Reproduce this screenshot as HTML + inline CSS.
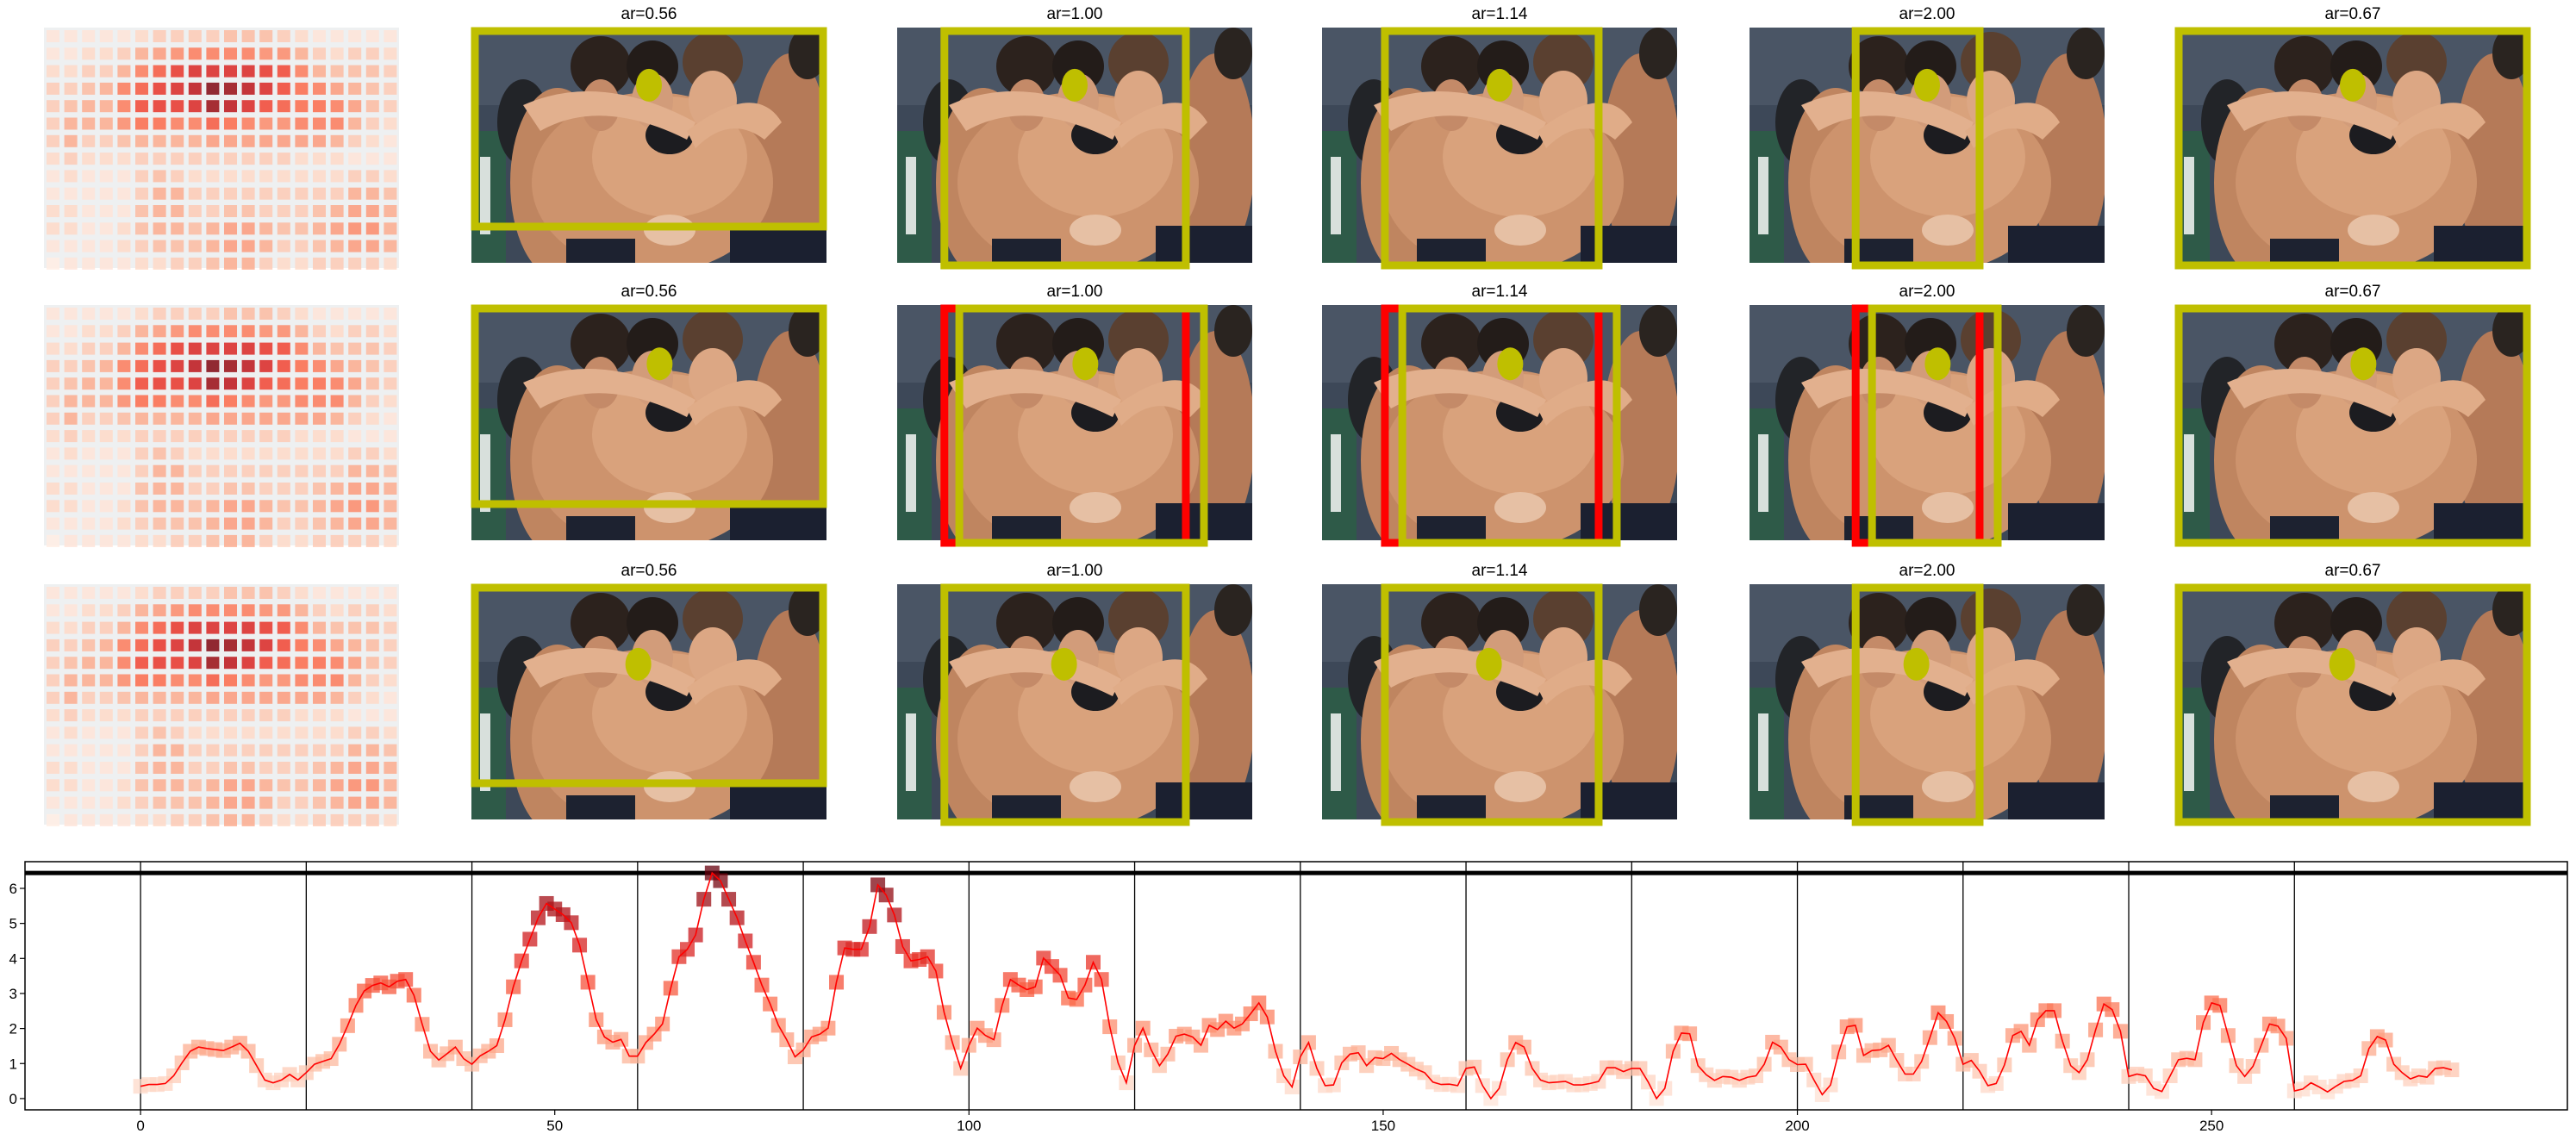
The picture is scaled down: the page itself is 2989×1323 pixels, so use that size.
<!DOCTYPE html>
<html><head><meta charset="utf-8">
<style>
html,body{margin:0;padding:0;background:#fff;}
svg{display:block;font-family:"Liberation Sans","DejaVu Sans",sans-serif;}
</style></head>
<body>
<svg id="fig" width="2989" height="1323" viewBox="0 0 2989 1323" xmlns="http://www.w3.org/2000/svg">
<defs>
<symbol id="photo" viewBox="0 0 412 273" preserveAspectRatio="none">
  <rect x="0" y="0" width="412" height="273" fill="#3d4858"/>
  <rect x="0" y="0" width="412" height="90" fill="#4a5565"/>
  <rect x="0" y="120" width="40" height="153" fill="#2e5a48"/>
  <rect x="10" y="150" width="12" height="90" fill="#d8e0dc"/>
  <ellipse cx="60" cy="110" rx="30" ry="50" fill="#222428"/>
  <ellipse cx="100" cy="180" rx="55" ry="110" fill="#bf8560"/>
  <ellipse cx="370" cy="150" rx="45" ry="120" fill="#b57a58"/>
  <ellipse cx="210" cy="180" rx="140" ry="105" fill="#cd936d"/>
  <ellipse cx="230" cy="150" rx="90" ry="70" fill="#d9a27c"/>
  <ellipse cx="150" cy="45" rx="35" ry="35" fill="#2c221d"/>
  <ellipse cx="210" cy="45" rx="30" ry="30" fill="#231c19"/>
  <ellipse cx="280" cy="40" rx="35" ry="35" fill="#5a4030"/>
  <ellipse cx="390" cy="30" rx="22" ry="30" fill="#2a2420"/>
  <ellipse cx="210" cy="85" rx="24" ry="32" fill="#d29c7a"/>
  <ellipse cx="280" cy="85" rx="28" ry="35" fill="#dca784"/>
  <ellipse cx="150" cy="90" rx="22" ry="30" fill="#c48a68"/>
  <ellipse cx="230" cy="125" rx="28" ry="22" fill="#1c1c20"/>
  <path d="M60 90 Q150 50 260 110 L250 130 Q150 80 80 120Z" fill="#e2b08e"/>
  <path d="M250 120 Q330 60 360 110 L340 130 Q300 100 260 140Z" fill="#e0ac88"/>
  <rect x="110" y="245" width="80" height="28" fill="#1d2230"/>
  <rect x="300" y="230" width="112" height="43" fill="#1b2030"/>
  <ellipse cx="230" cy="235" rx="30" ry="18" fill="#e6c0a4"/>
</symbol>
</defs>
<g id="tiles"></g>
<g id="chart"></g>
</svg>
<script>
// ---- chart data ----
const scoreValues = [
0.35,0.40,0.40,0.43,0.65,1.02,1.35,1.47,1.43,1.40,1.37,1.47,1.58,1.35,0.94,0.53,0.45,0.53,0.69,0.53,
0.74,0.98,1.06,1.14,1.55,2.08,2.66,3.07,3.23,3.30,3.19,3.35,3.40,2.95,2.12,1.35,1.10,1.28,1.47,1.14,
0.98,1.22,1.35,1.51,2.25,3.19,3.93,4.55,5.16,5.57,5.41,5.25,5.02,4.38,3.32,2.25,1.76,1.61,1.69,1.21,
1.21,1.60,1.84,2.13,3.15,4.05,4.26,4.67,5.69,6.44,6.22,5.69,5.16,4.50,3.89,3.24,2.70,2.09,1.68,1.19,
1.39,1.76,1.84,2.01,3.32,4.30,4.26,4.26,4.91,6.10,5.81,5.24,4.34,3.93,3.97,4.05,3.64,2.46,1.60,0.86,
1.52,2.01,1.80,1.68,2.66,3.40,3.24,3.11,3.19,4.01,3.77,3.52,2.87,2.83,3.24,3.89,3.40,2.05,1.02,0.45,
1.52,2.01,1.39,0.94,1.27,1.78,1.84,1.76,1.52,2.09,1.97,2.21,2.01,2.13,2.42,2.73,2.33,1.35,0.65,0.33,
1.19,1.60,0.86,0.37,0.39,1.02,1.27,1.31,0.94,1.17,1.14,1.29,1.11,0.98,0.84,0.74,0.47,0.40,0.41,0.37,
0.86,0.90,0.37,0.00,0.29,1.11,1.60,1.47,0.86,0.53,0.45,0.47,0.49,0.39,0.39,0.43,0.49,0.88,0.88,0.77,
0.86,0.86,0.47,0.00,0.29,1.35,1.87,1.85,0.94,0.68,0.52,0.63,0.61,0.52,0.61,0.65,0.98,1.61,1.47,1.11,
0.97,0.98,0.53,0.11,0.39,1.33,2.05,2.09,1.23,1.37,1.39,1.52,1.09,0.70,0.70,1.06,1.74,2.45,2.20,1.72,
0.98,1.09,0.78,0.37,0.43,0.96,1.80,1.92,1.52,2.25,2.51,2.51,1.64,0.94,0.74,1.11,1.96,2.70,2.54,1.92,
0.63,0.70,0.65,0.29,0.20,0.65,1.11,1.15,1.11,2.17,2.73,2.66,1.80,0.94,0.63,0.92,1.52,2.13,2.07,1.72,
0.22,0.27,0.45,0.33,0.19,0.35,0.49,0.52,0.65,1.43,1.77,1.67,0.98,0.74,0.56,0.65,0.61,0.86,0.88,0.82];
const segmentBounds = [0,20,40,60,80,100,120,140,160,180,200,220,240,260];
const xTicks = [0,50,100,150,200,250];
const yTicks = [0,1,2,3,4,5,6];
// ---- tile data ----
const arLabels = ["ar=0.56","ar=1.00","ar=1.14","ar=2.00","ar=0.67"];
const heatVals = [
[.1,.1,.1,.1,.1,.15,.2,.2,.2,.2,.25,.25,.25,.2,.15,.1,.1,.1,.1,.1],
[.1,.1,.15,.15,.2,.3,.35,.4,.45,.45,.45,.45,.4,.4,.3,.2,.15,.2,.2,.15],
[.15,.15,.2,.2,.3,.45,.55,.65,.7,.7,.7,.7,.65,.6,.45,.3,.25,.25,.25,.2],
[.2,.2,.25,.3,.45,.55,.65,.7,.8,.95,.9,.8,.7,.6,.5,.45,.35,.3,.25,.2],
[.2,.25,.3,.3,.45,.6,.65,.65,.7,.9,.8,.7,.6,.55,.5,.5,.45,.35,.25,.2],
[.2,.3,.3,.3,.4,.5,.5,.45,.45,.55,.5,.45,.4,.4,.45,.45,.45,.3,.2,.15],
[.2,.3,.2,.2,.25,.3,.3,.3,.3,.35,.35,.35,.35,.35,.35,.35,.3,.2,.15,.1],
[.15,.2,.15,.15,.15,.2,.2,.2,.2,.2,.2,.2,.2,.2,.15,.15,.15,.1,.1,.1],
[.1,.15,.1,.1,.1,.2,.25,.2,.15,.15,.15,.15,.15,.15,.15,.15,.15,.2,.2,.15],
[.1,.1,.1,.1,.1,.2,.3,.3,.2,.2,.2,.2,.2,.2,.2,.2,.2,.3,.3,.25],
[.15,.15,.1,.1,.1,.25,.3,.3,.2,.2,.25,.25,.2,.2,.2,.25,.3,.35,.35,.3],
[.15,.15,.1,.1,.15,.25,.3,.3,.25,.3,.35,.35,.3,.25,.25,.3,.35,.4,.4,.3],
[.1,.1,.1,.1,.15,.2,.25,.25,.25,.3,.35,.35,.3,.2,.2,.25,.3,.35,.35,.3],
[.05,.1,.1,.1,.1,.15,.15,.2,.2,.25,.3,.3,.2,.15,.15,.2,.2,.2,.2,.15]];

const NS="http://www.w3.org/2000/svg";
function mk(tag,attrs,parent){const e=document.createElementNS(NS,tag);for(const k in attrs)e.setAttribute(k,attrs[k]);parent.appendChild(e);return e;}
const REDS=[[255,245,240],[254,224,210],[252,187,161],[252,146,114],[251,106,74],[239,59,44],[203,24,29],[165,15,21],[103,0,13]];
function reds(t){t=Math.max(0,Math.min(1,t));const p=t*8,i=Math.min(7,Math.floor(p)),f=p-i;const a=REDS[i],b=REDS[i+1];
return `rgb(${Math.round(a[0]+(b[0]-a[0])*f)},${Math.round(a[1]+(b[1]-a[1])*f)},${Math.round(a[2]+(b[2]-a[2])*f)})`;}

// ---- tiles ----
const tiles=document.getElementById('tiles');
const rowsY=[32,354,678], PH=273, PW=412;
const colX=[547,1041,1534,2030,2524];
const boxFr=[[0,1],[0.133,0.813],[0.177,0.779],[0.299,0.648],[0,1]];
const shiftFr=[[0,1],[0.175,0.864],[0.226,0.830],[0.345,0.699],[0,1]];
const dotFr=[[0.50,0.245],[0.53,0.25],[0.47,0.34]];
rowsY.forEach((y0,r)=>{
  const hg=mk('g',{},tiles);
  
  
  mk('rect',{x:51,y:y0,width:412,height:279,fill:'#eef0f1'},hg);
  heatVals.forEach((row,ri)=>row.forEach((v,ci)=>{
    const c=mk('rect',{x:51+3+ci*20.6,y:y0+3+ri*20.3,width:15,height:14,fill:reds(v),opacity:0.85},hg);
    
    
  }));
  colX.forEach((x0,c)=>{
    const g=mk('g',{},tiles);
    
    
    const t=mk('text',{x:x0+PW/2,y:y0-10,'font-size':19,'text-anchor':'middle',fill:'#000'},g);
    t.textContent=arLabels[c];
    
    
    const u=mk('use',{href:'#photo',x:x0,y:y0,width:PW,height:PH},g);
    
    
    const bh = c===0 ? PH*0.846 : PH+3;
    if(r===1 && c>=1 && c<=3){
      const rb=mk('rect',{x:x0+boxFr[c][0]*PW,y:y0+4,width:(boxFr[c][1]-boxFr[c][0])*PW,height:bh-4,fill:'none',stroke:'#ff0000','stroke-width':9},g);
      
      
    }
    const fr = (r===1)?shiftFr[c]:boxFr[c];
    const inset = (c===0||c===4)?4:0;
    const yb=mk('rect',{x:x0+fr[0]*PW+inset,y:y0+4,width:(fr[1]-fr[0])*PW-2*inset,height:bh-4,fill:'none',stroke:'#bfbf00','stroke-width':9},g);
    
    
    const d=mk('ellipse',{cx:x0+dotFr[r][0]*PW,cy:y0+dotFr[r][1]*PH,rx:15,ry:19,fill:'#bfbf00'},g);
    
    
  });
});

// ---- chart ----
const ch=document.getElementById('chart');
const AX={l:29,r:2979,t:1000,b:1288}, XMIN=-13.95, XMAX=292.95, YMIN=-0.322, YMAX=6.762;
const X=v=>AX.l+(v-XMIN)/(XMAX-XMIN)*(AX.r-AX.l);
const Y=v=>AX.b-(v-YMIN)/(YMAX-YMIN)*(AX.b-AX.t);
const vmax=Math.max(...scoreValues), vmin=Math.min(...scoreValues);
segmentBounds.forEach(s=>{
  const l=mk('line',{x1:X(s),x2:X(s),y1:AX.t,y2:AX.b,stroke:'#000','stroke-width':1.3},ch);
  
  
});
const mx=mk('line',{x1:AX.l,x2:AX.r,y1:Y(vmax),y2:Y(vmax),stroke:'#000','stroke-width':5},ch);


scoreValues.forEach((v,i)=>{
  const m=mk('rect',{x:X(i)-8.5,y:Y(v)-8.5,width:17,height:17,fill:reds(0.1+0.9*(v-vmin)/(vmax-vmin)),opacity:0.75},ch);
  
  
});
const pl=mk('polyline',{points:scoreValues.map((v,i)=>X(i).toFixed(1)+','+Y(v).toFixed(1)).join(' '),fill:'none',stroke:'#ff0000','stroke-width':1.6},ch);


const fr=mk('rect',{x:AX.l,y:AX.t,width:AX.r-AX.l,height:AX.b-AX.t,fill:'none',stroke:'#000','stroke-width':1.5},ch);


xTicks.forEach(t=>{
  mk('line',{x1:X(t),x2:X(t),y1:AX.b,y2:AX.b+6,stroke:'#000','stroke-width':1.2},ch);
  const tx=mk('text',{x:X(t),y:AX.b+24,'font-size':17,'text-anchor':'middle'},ch);
  tx.textContent=t;
  
  
});
yTicks.forEach(t=>{
  mk('line',{x1:AX.l-6,x2:AX.l,y1:Y(t),y2:Y(t),stroke:'#000','stroke-width':1.2},ch);
  const tx=mk('text',{x:AX.l-9,y:Y(t)+6,'font-size':17,'text-anchor':'end'},ch);
  tx.textContent=t;
  
  
});
</script>
</body></html>
